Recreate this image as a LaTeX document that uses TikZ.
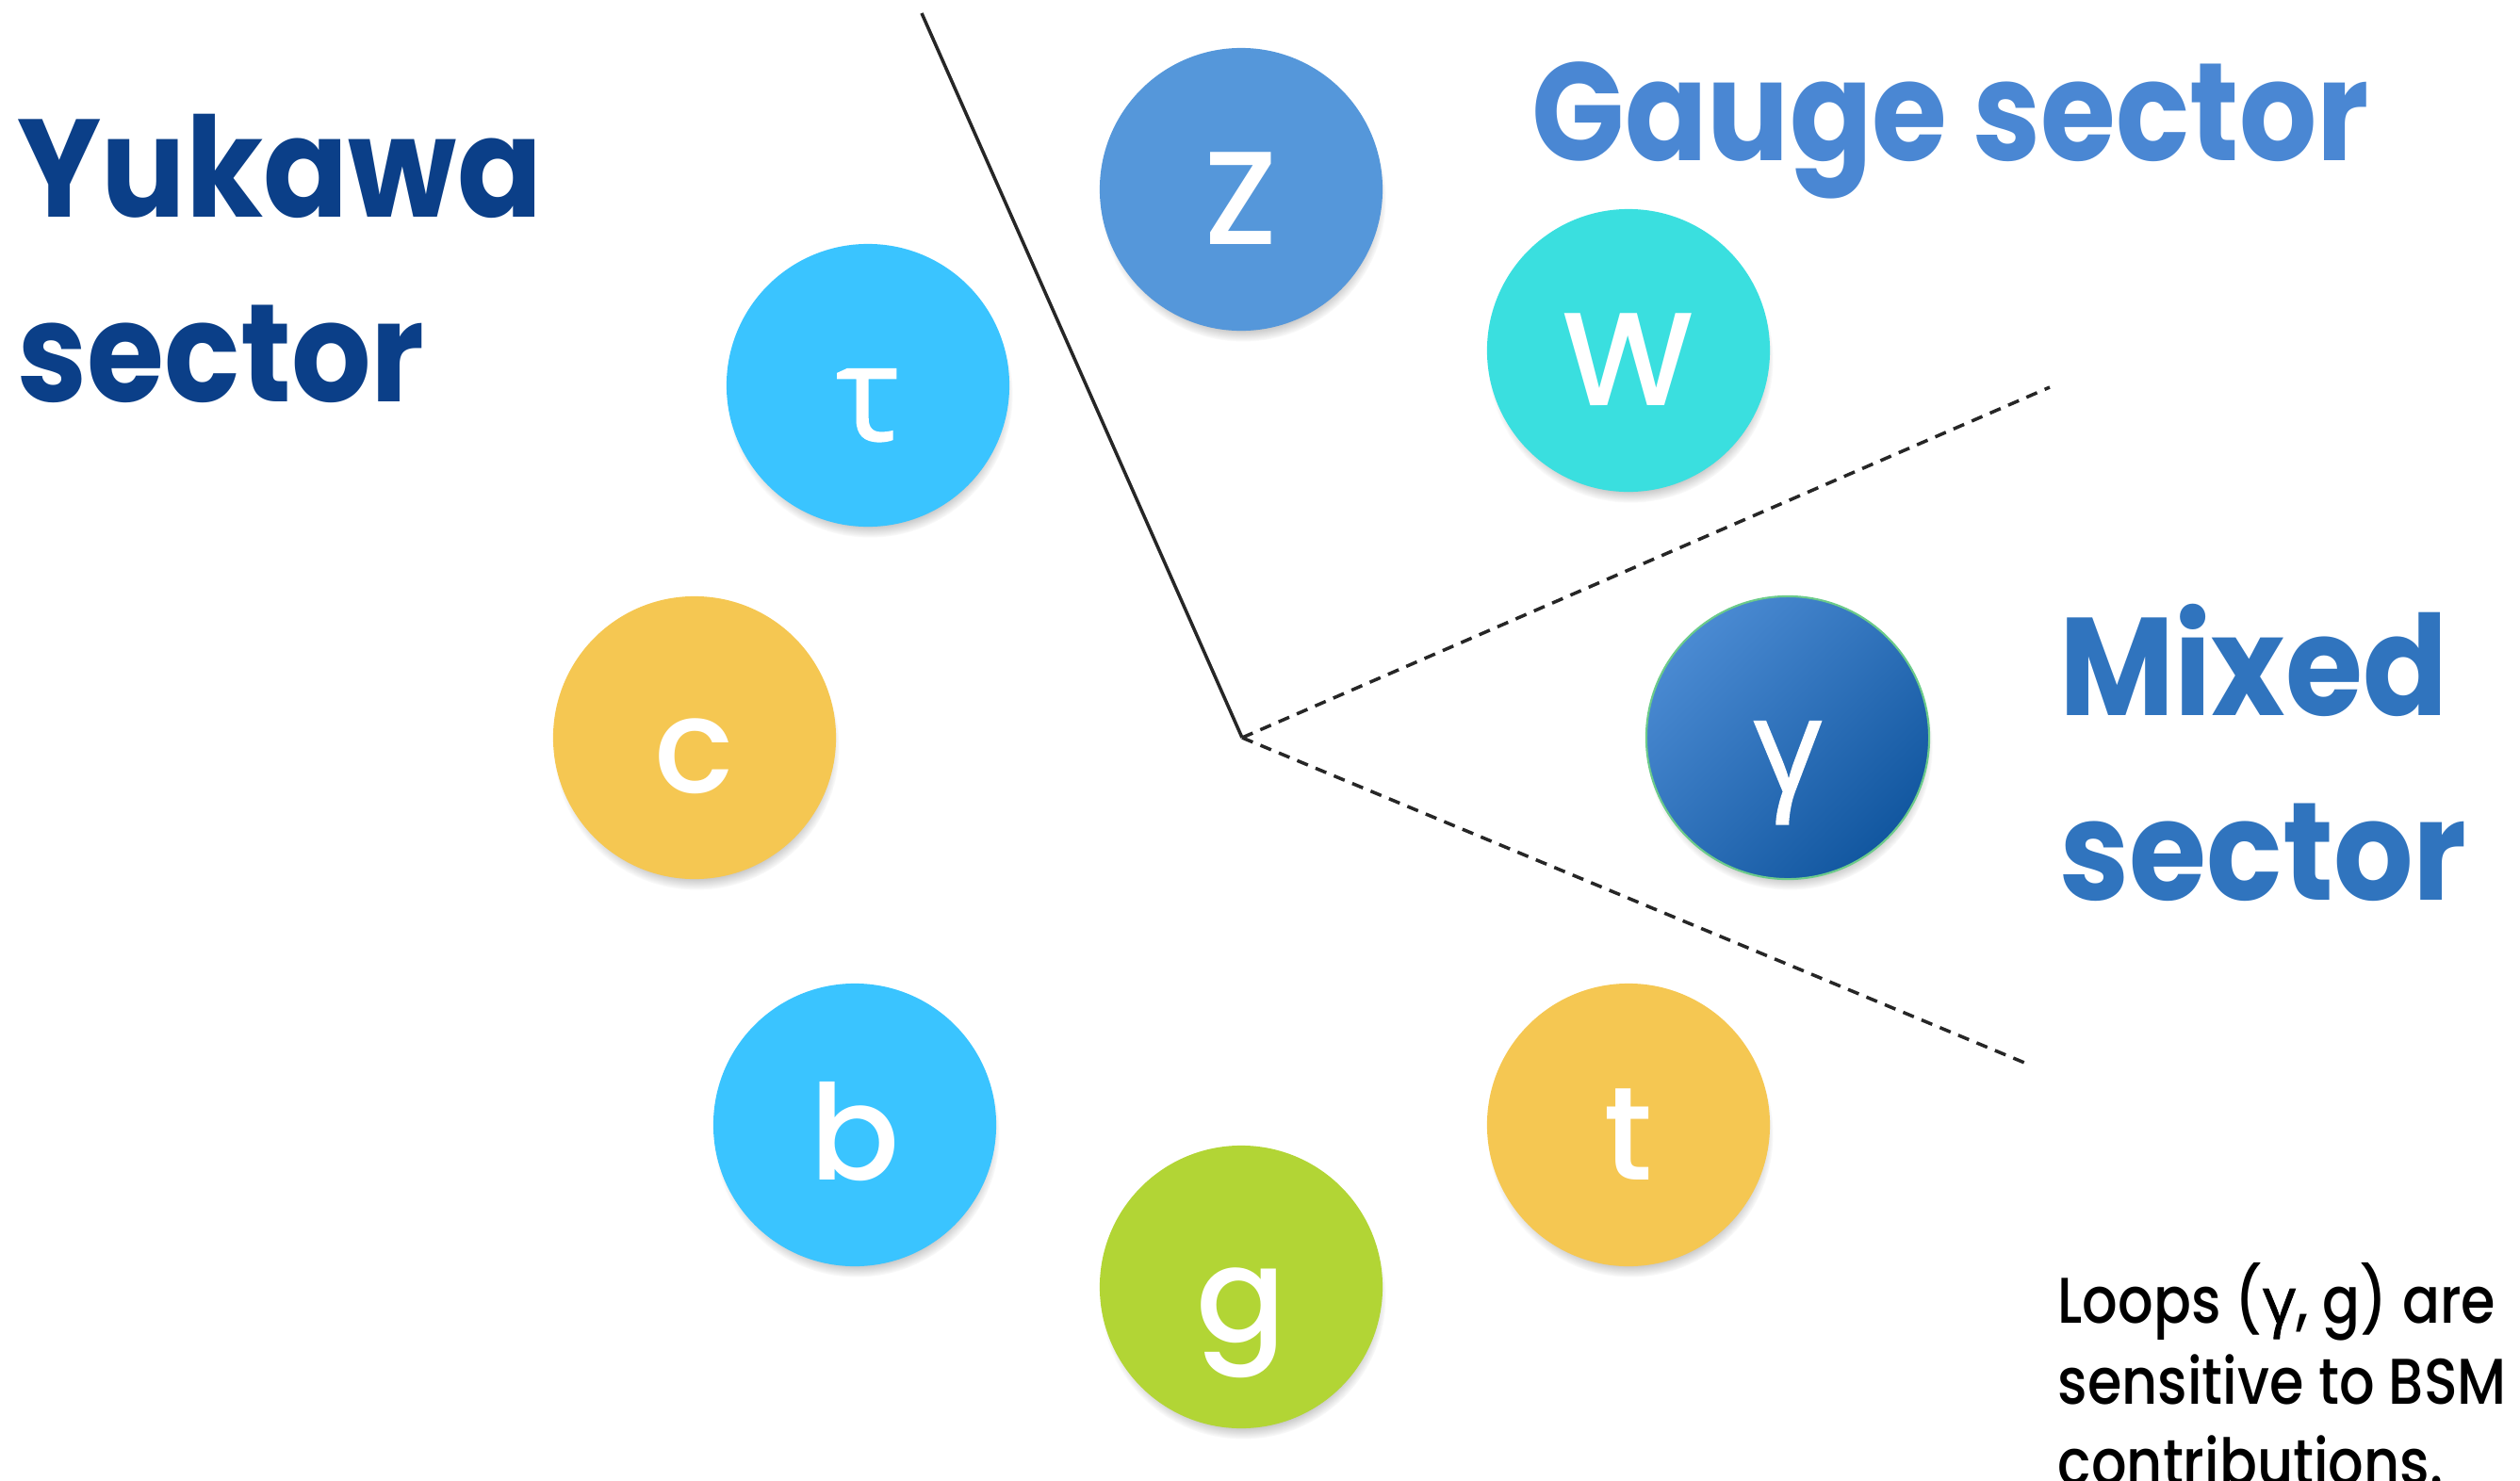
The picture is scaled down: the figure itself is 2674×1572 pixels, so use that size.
\documentclass[tikz,border=0pt]{standalone}
\usepackage{fontspec}
\setmainfont{Poppins}[FakeStretch=0.9]
\newfontfamily\medfont{Poppins Medium}[FakeStretch=0.86]
\newfontfamily\bubblefont{Poppins Medium}
\newfontfamily\greekfont{Open Sans}[FakeBold=1.2]
\usepackage{xcolor}
\usetikzlibrary{shadows}

\definecolor{yukawablue}{HTML}{0B3F88}
\definecolor{gaugeblue}{HTML}{4A87D3}
\definecolor{mixedblue}{HTML}{3074BE}
\definecolor{zblue}{HTML}{5597DA}
\definecolor{wcyan}{HTML}{3ADFDF}
\definecolor{skyblue}{HTML}{3AC4FF}
\definecolor{sunyellow}{HTML}{F5C752}
\definecolor{limegreen}{HTML}{B2D535}
\definecolor{gammalight}{HTML}{4A8AD2}
\definecolor{gammadark}{HTML}{1257A0}
\definecolor{gammarim}{HTML}{6CCB8A}

\begin{document}
\begin{tikzpicture}[
        x=0.01cm, y=-0.01cm,
        % particle bubbles
        bubble/.style={
            circle, minimum size=3cm, inner sep=0pt, text=white,
            font=\bubblefont\fontsize{40}{48}\selectfont,
            text height=33pt, text depth=0pt,
            circular drop shadow={shadow xshift=0.2mm, shadow yshift=-1mm,
                shadow scale=1.01, opacity=0.75}
        },
        sectorlabel/.style={
            font=\bfseries\fontsize{42}{55.8}\selectfont,
            align=left, inner sep=0pt
        },
        boundary/.style={line width=1pt, black!85}
    ]
    \useasboundingbox (0,0) rectangle (2674,1572);

    % ==========================
    % SECTOR BOUNDARIES
    % ==========================
    \coordinate (apex)     at (1318,783);
    \coordinate (topend)   at (978,14);
    \coordinate (gaugeend) at (2175,411);
    \coordinate (mixedend) at (2153,1130);

    \draw[boundary] (topend) -- (apex);
    \draw[boundary, dash pattern=on 3.5pt off 2.5pt] (apex) -- (gaugeend);
    \draw[boundary, dash pattern=on 3.5pt off 2.5pt] (apex) -- (mixedend);

    % ==========================
    % PARTICLES
    % ==========================
    \node[bubble, fill=zblue]      (zboson) at (1317,201)  {Z};
    \node[bubble, fill=wcyan]      (wboson) at (1728,372)  {W};
    \node[bubble, fill=skyblue]    (tau)    at (921,409)   {\greekfont τ};
    \node[bubble, fill=sunyellow]  (charm)  at (737,783)   {c};
    \node[bubble, top color=gammalight, bottom color=gammadark, shading angle=45,
          draw=gammarim, line width=0.6pt] (photon) at (1897,783) {\greekfont γ};
    \node[bubble, fill=skyblue]    (bottom) at (907,1194)  {b};
    \node[bubble, fill=limegreen]  (gluon)  at (1317,1366) {g};
    \node[bubble, fill=sunyellow]  (top)    at (1728,1194) {t};

    % ==========================
    % LABELS
    % ==========================
    \node[sectorlabel, text=yukawablue, anchor=north west] (yukawa) at (18,120) {Yukawa\\sector};
    \node[sectorlabel, text=gaugeblue, anchor=base west,
          font=\bfseries\fontsize{42}{55.8}\selectfont\addfontfeature{FakeStretch=0.875}] (gauge) at (1625,170) {Gauge sector};
    \node[sectorlabel, text=mixedblue, anchor=north west] (mixed) at (2185,640) {Mixed\\sector};

    \node[anchor=north west, align=left, inner sep=0pt,
          font=\medfont\fontsize{19.5}{24.4}\selectfont] (loops) at (2183,1340)
        {Loops ({\greekfont γ}, g) are\\sensitive to BSM\\contributions.};

\end{tikzpicture}
\end{document}
